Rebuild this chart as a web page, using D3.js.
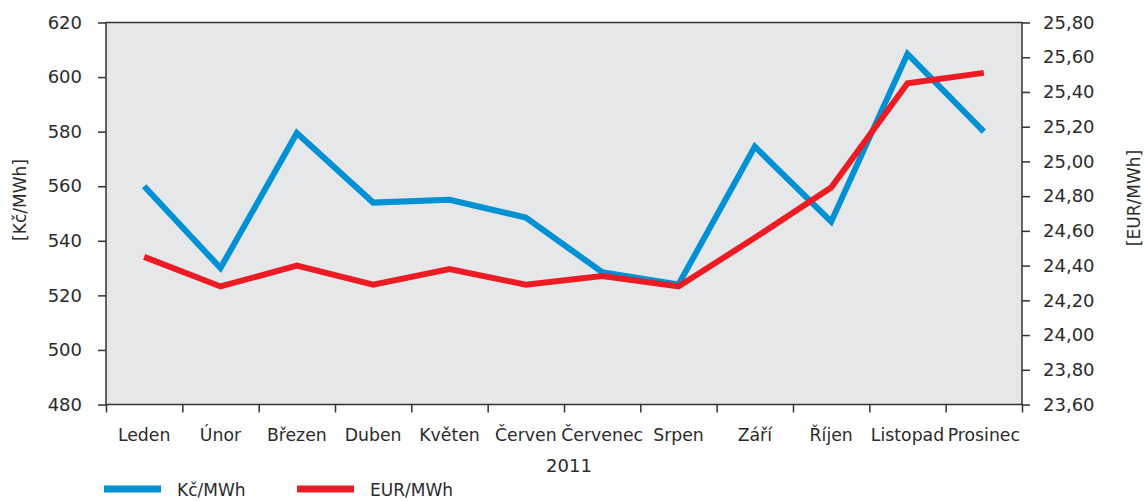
<!DOCTYPE html>
<html>
<head>
<meta charset="utf-8">
<script src="https://cdn.jsdelivr.net/npm/d3@7"></script>
<style>
  body { margin: 0; background: #fff; }
  text { font-family: "DejaVu Sans", sans-serif; fill: #2b2b2b; }
</style>
</head>
<body>
<div id="chart-area"></div>
<script>
const MONTHS = ["Leden", "Únor", "Březen", "Duben", "Květen", "Červen", "Červenec", "Srpen", "Září", "Říjen", "Listopad", "Prosinec"]
const CZK = [560, 530, 579.5, 554, 555, 548.5, 528.5, 524, 574.5, 547, 608.5, 580]
const EUR = [24.45, 24.28, 24.40, 24.29, 24.38, 24.29, 24.34, 24.28, 24.56, 24.85, 25.45, 25.51]
const LEFT_TICKS = [480, 500, 520, 540, 560, 580, 600, 620]
const RIGHT_TICKS = [23.6, 23.8, 24.0, 24.2, 24.4, 24.6, 24.8, 25.0, 25.2, 25.4, 25.6, 25.8]
const YEAR = "2011"
const SERIES = ["Kč/MWh", "EUR/MWh"]

const W = 1145, H = 501
const MARGIN = { LEFT: 106, RIGHT: 123, TOP: 22.5, BOTTOM: 96.5 }
const WIDTH = W - MARGIN.LEFT - MARGIN.RIGHT
const HEIGHT = H - MARGIN.TOP - MARGIN.BOTTOM
const BLUE = "#0091d4", RED = "#ed1c24"

const svg = d3.select("#chart-area").append("svg")
  .attr("width", W)
  .attr("height", H)

const g = svg.append("g")
  .attr("transform", `translate(${MARGIN.LEFT}, ${MARGIN.TOP})`)

const x = d3.scaleBand().domain(MONTHS).range([0, WIDTH]).padding(0)
const xEdge = d3.scaleLinear().domain([0, MONTHS.length]).range([0, WIDTH])
const yL = d3.scaleLinear().domain([480, 620]).range([HEIGHT, 0])
const yR = d3.scaleLinear().domain([23.6, 25.8]).range([HEIGHT, 0])

// plot background
g.append("rect")
  .attr("width", WIDTH)
  .attr("height", HEIGHT)
  .attr("fill", "#e6e7e9")
  .attr("stroke", "#333")
  .attr("stroke-width", 1.5)

const czDec = d3.formatLocale({ decimal: ",", thousands: " ", grouping: [3], currency: ["", ""] })

// left axis
g.append("g")
  .call(d3.axisLeft(yL).tickValues(LEFT_TICKS).tickSize(8).tickSizeOuter(0).tickPadding(16))
  .call(a => a.select(".domain").remove())
  .call(a => a.selectAll("line").attr("stroke", "#333").attr("stroke-width", 1.5))
  .call(a => a.selectAll("text").style("font-size", "18px").attr("fill", "#2b2b2b"))

// right axis
g.append("g")
  .attr("transform", `translate(${WIDTH}, 0)`)
  .call(d3.axisRight(yR).tickValues(RIGHT_TICKS).tickFormat(czDec.format(".2f")).tickSize(8).tickSizeOuter(0).tickPadding(13))
  .call(a => a.select(".domain").remove())
  .call(a => a.selectAll("line").attr("stroke", "#333").attr("stroke-width", 1.5))
  .call(a => a.selectAll("text").style("font-size", "18px").attr("fill", "#2b2b2b"))

// bottom ticks at category edges
g.append("g")
  .attr("transform", `translate(0, ${HEIGHT})`)
  .call(d3.axisBottom(xEdge).ticks(MONTHS.length).tickFormat("").tickSize(8).tickSizeOuter(0))
  .call(a => a.select(".domain").remove())
  .call(a => a.selectAll("line").attr("stroke", "#333").attr("stroke-width", 1.5))

// category labels
g.append("g")
  .attr("transform", `translate(0, ${HEIGHT})`)
  .call(d3.axisBottom(x).tickSize(0).tickPadding(24))
  .call(a => a.select(".domain").remove())
  .call(a => a.selectAll("text").style("font-size", "17.3px").attr("fill", "#2b2b2b"))

// year label
g.append("text")
  .attr("x", WIDTH / 2 + 5)
  .attr("y", 449.5)
  .attr("text-anchor", "middle")
  .style("font-size", "18px")
  .text(YEAR)

// y labels
svg.append("text")
  .attr("transform", "translate(26, 200) rotate(-90)")
  .attr("text-anchor", "middle")
  .style("font-size", "17px")
  .text("[" + SERIES[0] + "]")

svg.append("text")
  .attr("transform", "translate(1140, 198) rotate(-90)")
  .attr("text-anchor", "middle")
  .style("font-size", "17px")
  .text("[" + SERIES[1] + "]")

const lineL = d3.line()
  .x((d, i) => x(MONTHS[i]) + x.bandwidth() / 2)
  .y(d => yL(d))

const lineR = d3.line()
  .x((d, i) => x(MONTHS[i]) + x.bandwidth() / 2)
  .y(d => yR(d))

g.append("path")
  .datum(CZK)
  .attr("fill", "none")
  .attr("stroke", BLUE)
  .attr("stroke-width", 6)
  .attr("d", lineL)

g.append("path")
  .datum(EUR)
  .attr("fill", "none")
  .attr("stroke", RED)
  .attr("stroke-width", 6)
  .attr("d", lineR)

// legend
const legend = svg.append("g").attr("transform", "translate(104, 489)")
const items = [{ name: SERIES[0], color: BLUE, x: 0 }, { name: SERIES[1], color: RED, x: 193 }]
items.forEach(it => {
  legend.append("line")
    .attr("x1", it.x).attr("x2", it.x + 57)
    .attr("y1", 0).attr("y2", 0)
    .attr("stroke", it.color)
    .attr("stroke-width", 7)
  legend.append("text")
    .attr("x", it.x + 73)
    .attr("y", 7)
    .style("font-size", "17px")
    .text(it.name)
})
</script>
</body>
</html>
